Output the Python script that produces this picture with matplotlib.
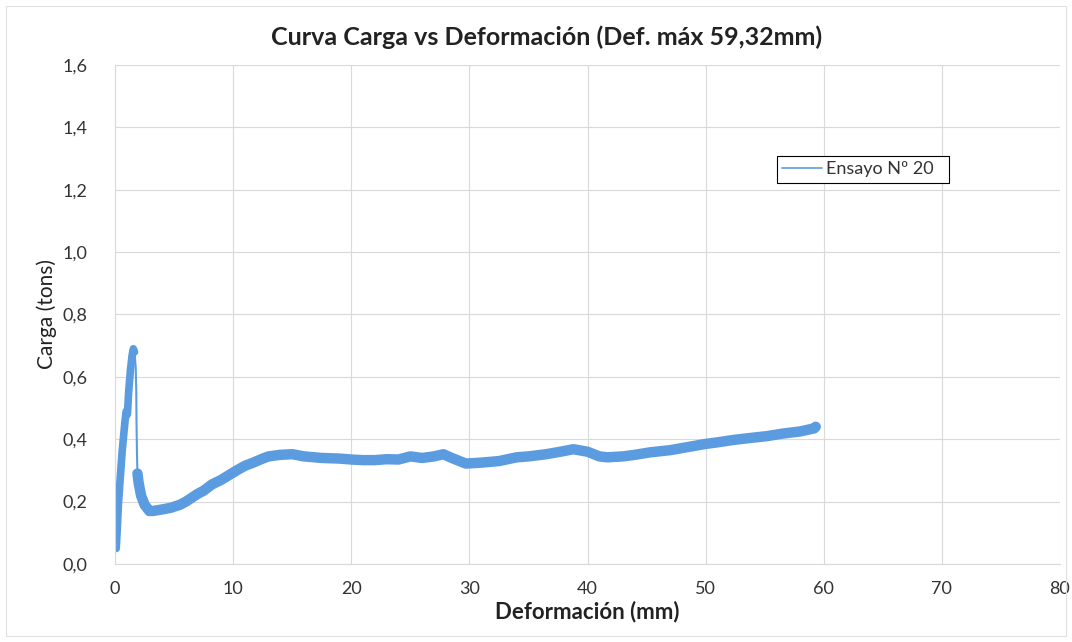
import matplotlib.pyplot as plt
from matplotlib.patches import Rectangle

# Load curve (deformation in mm, load in tons)
rise_x = [0.1, 0.2, 0.3, 0.45, 0.6, 0.75, 0.85, 0.95, 1.05, 1.15, 1.3, 1.45, 1.55, 1.65]
rise_y = [0.05, 0.12, 0.2, 0.28, 0.36, 0.42, 0.46, 0.49, 0.48, 0.55, 0.62, 0.67, 0.69, 0.68]

drop_x = [1.65, 1.75, 1.8, 1.82, 1.86, 1.9]
drop_y = [0.68, 0.63, 0.55, 0.45, 0.35, 0.29]

body_x = [1.9, 2.0, 2.2, 2.5, 2.9, 3.2, 4.0, 4.7, 5.5, 6.0, 7.0, 7.5, 8.2, 9.0,
          10.3, 11.0, 11.7, 12.5, 13.0, 14.0, 15.0, 16.0, 17.5, 19.0, 20.0,
          21.0, 22.0, 23.0, 24.0, 25.0, 26.0, 27.0, 27.8, 28.5, 29.7, 31.0,
          32.5, 34.0, 35.0, 36.5, 38.0, 38.8, 40.0, 41.0, 41.7, 43.0, 44.0,
          45.3, 47.0, 48.5, 50.0, 51.0, 52.4, 54.0, 55.2, 56.5, 58.0, 59.2, 59.32]
body_y = [0.29, 0.26, 0.22, 0.19, 0.17, 0.17, 0.175, 0.18, 0.19, 0.2, 0.225, 0.235,
          0.255, 0.27, 0.3, 0.315, 0.325, 0.338, 0.345, 0.35, 0.352, 0.345, 0.34,
          0.338, 0.335, 0.333, 0.333, 0.336, 0.335, 0.345, 0.34, 0.345, 0.352,
          0.34, 0.322, 0.325, 0.33, 0.342, 0.345, 0.352, 0.362, 0.368, 0.36,
          0.345, 0.342, 0.345, 0.35, 0.358, 0.365, 0.375, 0.385, 0.39, 0.398,
          0.405, 0.41, 0.418, 0.425, 0.435, 0.44]

x_ticks = [0, 10, 20, 30, 40, 50, 60, 70, 80]
y_ticks = [0.0, 0.2, 0.4, 0.6, 0.8, 1.0, 1.2, 1.4, 1.6]

blue = "#5b9be0"
grid_col = "#d9d9d9"
text_col = "#333333"

plt.rcParams["font.family"] = ["Lato", "DejaVu Sans"]

fig = plt.figure(figsize=(10.72, 6.42), dpi=100)
ax = fig.add_axes([0.1073, 0.1215, 0.8815, 0.7773])

ax.plot(rise_x, rise_y, color=blue, lw=5.5, solid_capstyle="round", solid_joinstyle="round")
ax.plot(drop_x, drop_y, color=blue, lw=1.5)
ax.plot(body_x, body_y, color=blue, lw=7.5, solid_capstyle="round", solid_joinstyle="round")

ax.set_xlim(0, 80)
ax.set_ylim(0, 1.6)
ax.set_xticks(x_ticks)
ax.set_yticks(y_ticks)
ax.set_xticklabels([str(v) for v in x_ticks])
ax.set_yticklabels([f"{v:.1f}".replace(".", ",") for v in y_ticks])
ax.tick_params(length=0, labelsize=13, colors=text_col)
ax.tick_params(axis="x", pad=12)
ax.tick_params(axis="y", pad=20)
ax.grid(True, color=grid_col, lw=0.8)
ax.set_axisbelow(True)
for side in ["top", "right"]:
    ax.spines[side].set_visible(False)
for side in ["left", "bottom"]:
    ax.spines[side].set_color(grid_col)

ax.set_xlabel("Deformación (mm)", fontsize=16, fontweight="bold", va="center", color="#222222")
ax.xaxis.set_label_coords(0.5, -0.096)
ax.set_ylabel("Carga (tons)", fontsize=15, va="center", color="#222222")
ax.yaxis.set_label_coords(-0.072, 0.5)
fig.text(0.51, 0.942, "Curva Carga vs Deformación (Def. máx 59,32mm)",
         ha="center", va="center", fontsize=18, fontweight="bold", color="#222222")

leg = ax.legend(["Ensayo Nº 20"], loc="upper left",
                bbox_to_anchor=(0.691, 0.776, 0.201, 0.06), mode="expand",
                fontsize=13, fancybox=False, framealpha=1, handlelength=2.2,
                borderpad=0.3, handletextpad=0.2)
leg.get_frame().set_edgecolor("black")
leg.get_frame().set_linewidth(0.8)
leg.get_lines()[0].set_linewidth(1.2)
for t in leg.get_texts():
    t.set_color(text_col)

fig.patches.append(Rectangle((0.006, 0.01), 0.988, 0.98, transform=fig.transFigure,
                             fill=False, edgecolor="#e0e0e0", lw=0.8))

fig.savefig("out.png", dpi=100)
